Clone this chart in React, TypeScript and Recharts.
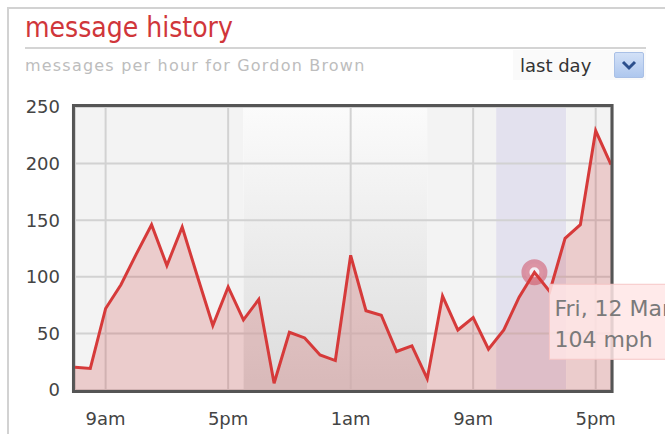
import {
  AreaChart,
  Area,
  XAxis,
  YAxis,
  CartesianGrid,
  ReferenceArea,
  ReferenceDot,
} from "recharts";

// hour of each sample, starting at 7am
const hours = [
  "7am", "8am", "9am", "10am", "11am", "12pm", "1pm", "2pm", "3pm", "4pm",
  "5pm", "6pm", "7pm", "8pm", "9pm", "10pm", "11pm", "12am", "1am", "2am",
  "3am", "4am", "5am", "6am", "7am", "8am", "9am", "10am", "11am", "12pm",
  "1pm", "2pm", "3pm", "4pm", "5pm", "6pm",
];
const messages = [
  20, 19, 72, 93, 120, 146, 110, 144, 100, 57, 91, 62, 80, 6, 51, 46, 31, 26,
  119, 70, 66, 34, 39, 10, 83, 53, 64, 36, 53, 82, 104, 87, 134, 146, 229, 199,
];
const xTicks = [2, 10, 18, 26, 34];
const yTicks = [0, 50, 100, 150, 200, 250];
const nightBand = [11, 23];
const hoverBand = [27.5, 32.07];
const hoverIndex = 30;
const tooltipLines = ["Fri, 12 March", "104 mph"];

const data = messages.map((v, i) => ({ i, hour: hours[i], v }));

const font = "'DejaVu Sans', sans-serif";

const TipLabel = (props: any) => {
  const vb = props.viewBox || { x: 0, y: 0, width: 0, height: 0 };
  const cx = vb.x + (vb.width || 0) / 2;
  const cy = vb.y + (vb.height || 0) / 2;
  return (
    <g>
      <rect
        x={cx + 15}
        y={cy + 12}
        width={170}
        height={75}
        fill="#ffe6e6"
        fillOpacity={0.85}
        stroke="#f6c6c6"
      />
      <text x={cx + 20} y={cy + 44} fontSize={22} fontFamily={font} fill="#7a7a7a">
        {tooltipLines[0]}
      </text>
      <text x={cx + 20} y={cy + 75} fontSize={22} fontFamily={font} fill="#7a7a7a">
        {tooltipLines[1]}
      </text>
    </g>
  );
};

export default function App() {
  return (
    <div
      style={{
        position: "absolute",
        left: 0,
        top: 0,
        width: 665,
        height: 434,
        overflow: "hidden",
        background: "#fff",
      }}
    >
      <style>{"body{margin:0}"}</style>
      <div
        style={{
          position: "absolute",
          left: 7,
          top: 7,
          width: 720,
          height: 500,
          borderTop: "2px solid #d2d2d2",
          borderLeft: "2px solid #d2d2d2",
        }}
      />
      <div
        style={{
          position: "absolute",
          left: 25,
          top: 14,
          fontSize: 28,
          lineHeight: "28px",
          fontFamily: "'DejaVu Sans Condensed', 'DejaVu Sans', sans-serif",
          color: "#d0363a",
          whiteSpace: "nowrap",
        }}
      >
        message history
      </div>
      <div
        style={{
          position: "absolute",
          left: 25,
          top: 47,
          width: 621,
          height: 2,
          background: "#d4d4d4",
        }}
      />
      <div
        style={{
          position: "absolute",
          left: 25,
          top: 58,
          fontSize: 16,
          lineHeight: "16px",
          letterSpacing: 1.2,
          fontFamily: font,
          color: "#bdbdbd",
          whiteSpace: "nowrap",
        }}
      >
        messages per hour for Gordon Brown
      </div>
      <div
        style={{
          position: "absolute",
          left: 513,
          top: 50,
          width: 133,
          height: 30,
          background: "#fafafa",
        }}
      />
      <div
        style={{
          position: "absolute",
          left: 520,
          top: 57,
          fontSize: 18,
          lineHeight: "18px",
          fontFamily: font,
          color: "#333",
          whiteSpace: "nowrap",
        }}
      >
        last day
      </div>
      <div
        style={{
          position: "absolute",
          left: 614,
          top: 52,
          width: 28,
          height: 24,
          borderRadius: 2,
          border: "1px solid #a9c0e6",
          background: "linear-gradient(#d3e1f7, #aec7ee)",
        }}
      >
        <svg width={28} height={24} style={{ display: "block" }}>
          <polyline
            points="8,9 14,15 20,9"
            fill="none"
            stroke="#2c4f8c"
            strokeWidth={3}
          />
        </svg>
      </div>

      <div style={{ position: "absolute", left: 0, top: 0 }}>
        <AreaChart
          width={665}
          height={434}
          data={data}
          margin={{ top: 107, right: 54, left: 0, bottom: 0 }}
        >
          <defs>
            <linearGradient id="night" x1="0" y1="0" x2="0" y2="1">
              <stop offset="0%" stopColor="#fbfbfb" />
              <stop offset="100%" stopColor="#dcdcdc" />
            </linearGradient>
          </defs>
          <ReferenceArea x1={0} x2={nightBand[0]} y1={0} y2={250} fill="#f3f3f3" fillOpacity={1} zIndex={-300} />
          <ReferenceArea x1={nightBand[0]} x2={nightBand[1]} y1={0} y2={250} fill="url(#night)" fillOpacity={1} zIndex={-300} />
          <ReferenceArea x1={nightBand[1]} x2={hoverBand[0]} y1={0} y2={250} fill="#f3f3f3" fillOpacity={1} zIndex={-300} />
          <ReferenceArea x1={hoverBand[0]} x2={hoverBand[1]} y1={0} y2={250} fill="#e3e1ee" fillOpacity={1} zIndex={-300} />
          <ReferenceArea x1={hoverBand[1]} x2={35} y1={0} y2={250} fill="#f3f3f3" fillOpacity={1} zIndex={-300} />
          <CartesianGrid stroke="#d2d2d2" strokeWidth={2} zIndex={-200} />
          <XAxis
            dataKey="i"
            type="number"
            domain={[0, 35]}
            ticks={xTicks}
            tickFormatter={(i: number) => hours[i]}
            axisLine={false}
            tickLine={false}
            tickMargin={16}
            height={44}
            tick={{ fill: "#444", fontSize: 18, fontFamily: font }}
          />
          <YAxis
            type="number"
            domain={[0, 250]}
            ticks={yTicks}
            axisLine={false}
            tickLine={false}
            tickMargin={9}
            width={75}
            tick={{ fill: "#444", fontSize: 18, fontFamily: font }}
          />
          <ReferenceDot
            x={hoverIndex}
            y={messages[hoverIndex]}
            r={9}
            fill="#f4eef4"
            stroke="#d4768a"
            strokeOpacity={0.75}
            strokeWidth={8}
            zIndex={50}
          />
          <Area
            type="linear"
            dataKey="v"
            stroke="#d63a3a"
            strokeWidth={3}
            fill="#cc3333"
            fillOpacity={0.2}
            dot={false}
            activeDot={false}
            isAnimationActive={false}
            zIndex={100}
          />
          <ReferenceArea
            x1={-0.1}
            x2={35.07}
            y1={-1.3}
            y2={251.3}
            ifOverflow="visible"
            fill="none"
            stroke="#555"
            strokeWidth={3}
            zIndex={150}
          />
          <ReferenceDot
            x={hoverIndex}
            y={messages[hoverIndex]}
            r={1}
            fill="none"
            stroke="none"
            label={{ content: TipLabel }}
            zIndex={2000}
          />
        </AreaChart>
      </div>
    </div>
  );
}
